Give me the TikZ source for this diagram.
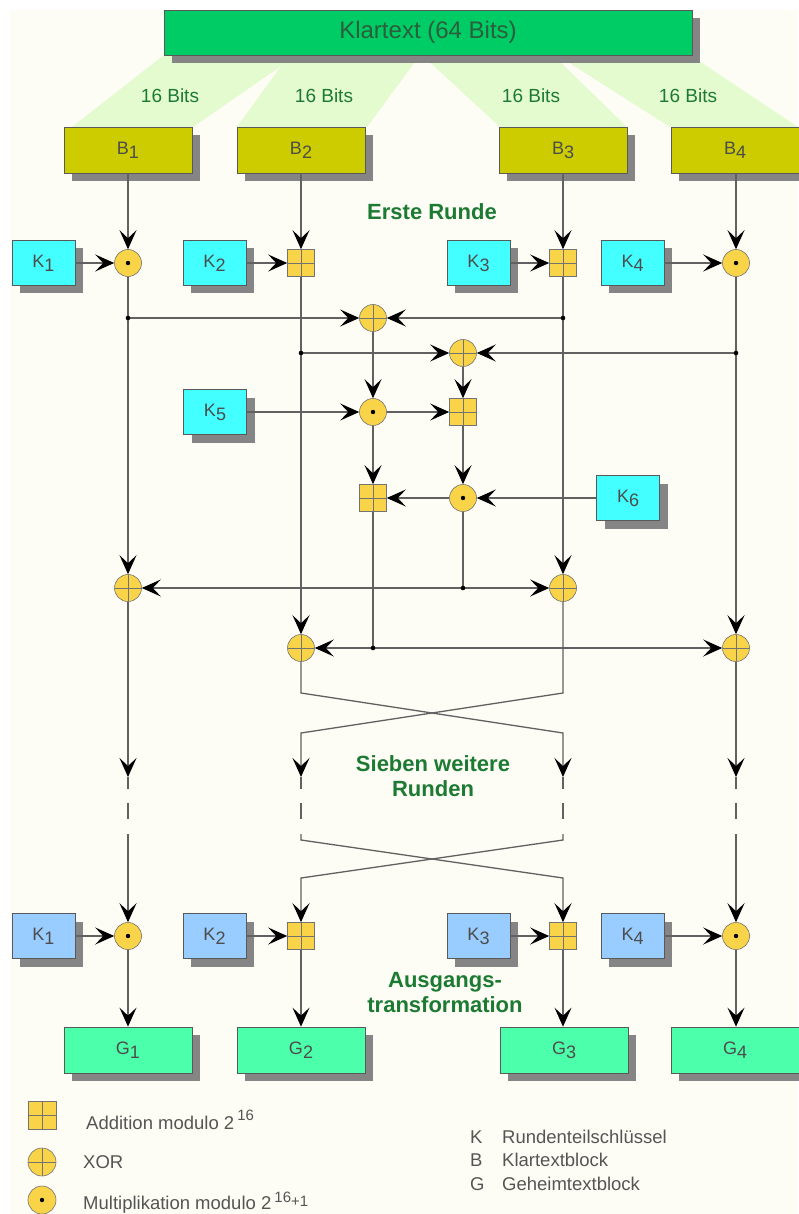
\documentclass[tikz,border=0pt]{standalone}
\usepackage{fontspec}
\setmainfont{Liberation Sans}
\usetikzlibrary{arrows.meta,shadows}

\definecolor{bgcream}{HTML}{FDFDF5}
\definecolor{fanGreen}{HTML}{E4FBD0}
\definecolor{colKlar}{HTML}{00CC66}
\definecolor{colB}{HTML}{CCCC00}
\definecolor{colK}{HTML}{44FFFF}
\definecolor{colKo}{HTML}{99CCFF}
\definecolor{colG}{HTML}{4CFFAA}
\definecolor{colOp}{HTML}{F9D448}
\definecolor{lblGreen}{HTML}{1C7A32}
\definecolor{lgGray}{HTML}{555555}
\definecolor{klarText}{HTML}{2C5E3C}

\newcommand\opcross{\draw[black!55,line width=0.5pt]
  (path picture bounding box.north) -- (path picture bounding box.south)
  (path picture bounding box.west) -- (path picture bounding box.east);}
\newcommand\idx[1]{\raisebox{-4pt}{#1}}

\tikzset{
  blk/.style={draw=black!65, line width=0.7pt, inner sep=0pt,
    drop shadow={shadow xshift=8pt, shadow yshift=-8pt, fill=black!48, opacity=1},
    font=\fontsize{18}{20}\selectfont, text=black!70},
  bbox/.style={blk, fill=colB, minimum width=128pt, minimum height=46pt},
  kbox/.style={blk, fill=colK, minimum width=63pt, minimum height=45pt},
  kout/.style={kbox, fill=colKo},
  gbox/.style={blk, fill=colG, minimum width=128pt, minimum height=46pt},
  op/.style={draw=black!55, fill=colOp, line width=0.6pt, minimum size=27pt, inner sep=0pt},
  xor/.style={op, circle, path picture={\opcross}},
  mul/.style={op, circle, path picture={\fill[black] (path picture bounding box.center) circle (2.2pt);}},
  add/.style={op, rectangle, path picture={\opcross}},
  conn/.style={draw=black!62, line width=1.3pt},
  arr/.style={conn, -{Stealth[length=19pt, width=17pt, inset=8pt, color=black]}},
  bits/.style={font=\fontsize{19}{21}\selectfont, text=lblGreen},
  phase/.style={font=\bfseries\fontsize{22}{25}\selectfont, text=lblGreen, align=center},
  legend/.style={font=\fontsize{18.5}{21}\selectfont, text=lgGray, anchor=west, inner sep=0pt},
  jdot/.style={fill=black}
}

\begin{document}
\begin{tikzpicture}[x=1pt, y=-1pt]
  \useasboundingbox (0,0) rectangle (798,1214);
  \fill[white] (0,0) rectangle (798,1214);
  \fill[bgcream] (10,10) rectangle (798,1214);

  % splitting of the 64-bit block into four 16-bit parts
  \fill[fanGreen] (164,55) -- (297,55) -- (193,127) -- (72,127) -- cycle;
  \fill[fanGreen] (289,55) -- (420,55) -- (367,127) -- (237,127) -- cycle;
  \fill[fanGreen] (422,55) -- (553,55) -- (627,127) -- (500,127) -- cycle;
  \fill[fanGreen] (557,55) -- (690,55) -- (798,127) -- (670,127) -- cycle;

  \node[blk, fill=colKlar, minimum width=528pt, minimum height=45pt,
        font=\fontsize{24}{26}\selectfont, text=klarText] (klar) at (428,32.5) {Klartext (64 Bits)};

  \node[bits] (b1l) at (170,96) {16 Bits};
  \node[bits] (b2l) at (324,96) {16 Bits};
  \node[bits] (b3l) at (531,96) {16 Bits};
  \node[bits] (b4l) at (688,96) {16 Bits};

  % plaintext blocks
  \node[bbox] (B1) at (128,150) {B\idx{1}};
  \node[bbox] (B2) at (301,150) {B\idx{2}};
  \node[bbox] (B3) at (563,150) {B\idx{3}};
  \node[bbox] (B4) at (735,150) {B\idx{4}};

  \node[phase] (erste) at (432,212) {Erste Runde};

  % first round: key mixing
  \node[kbox] (K1) at (43.5,263) {K\idx{1}};
  \node[kbox] (K2) at (214.5,263) {K\idx{2}};
  \node[kbox] (K3) at (478.5,263) {K\idx{3}};
  \node[kbox] (K4) at (632.5,263) {K\idx{4}};
  \node[mul] (m1) at (128,263) {};
  \node[add] (a2) at (301,263) {};
  \node[add] (a3) at (563,263) {};
  \node[mul] (m4) at (736,263) {};

  % MA structure
  \node[xor] (x1) at (373,318) {};
  \node[xor] (x2) at (463,353) {};
  \node[kbox] (K5) at (215,412) {K\idx{5}};
  \node[mul] (m5) at (373,412) {};
  \node[add] (a5) at (463,412) {};
  \node[kbox] (K6) at (628,498) {K\idx{6}};
  \node[mul] (m6) at (463,498) {};
  \node[add] (a6) at (373,498) {};

  \node[xor] (x5) at (128,588) {};
  \node[xor] (x6) at (563,588) {};
  \node[xor] (x7) at (301,648) {};
  \node[xor] (x8) at (736,648) {};

  % junction points
  \coordinate (j11) at (128,318);
  \coordinate (j31) at (563,318);
  \coordinate (j21) at (301,353);
  \coordinate (j41) at (736,353);
  \coordinate (j5) at (463,588);
  \coordinate (j6) at (373,648);

  \draw[arr] (B1) -- (m1);
  \draw[arr] (B2) -- (a2);
  \draw[arr] (B3) -- (a3);
  \draw[arr] (B4.south -| m4) -- (m4);
  \draw[arr] (K1) -- (m1);
  \draw[arr] (K2) -- (a2);
  \draw[arr] (K3) -- (a3);
  \draw[arr] (K4) -- (m4);

  \draw[arr] (m1) -- (x5);
  \draw[arr] (a2) -- (x7);
  \draw[arr] (a3) -- (x6);
  \draw[arr] (m4) -- (x8);

  \draw[arr] (j11) -- (x1);
  \draw[arr] (j31) -- (x1);
  \draw[arr] (j21) -- (x2);
  \draw[arr] (j41) -- (x2);

  \draw[arr] (x1) -- (m5);
  \draw[arr] (x2) -- (a5);
  \draw[arr] (K5) -- (m5);
  \draw[arr] (m5) -- (a5);
  \draw[arr] (a5) -- (m6);
  \draw[arr] (K6) -- (m6);
  \draw[arr] (m6) -- (a6);
  \draw[arr] (m5) -- (a6);

  \draw[conn] (m6) -- (j5);
  \draw[arr] (j5) -- (x5);
  \draw[arr] (j5) -- (x6);
  \draw[conn] (a6) -- (j6);
  \draw[arr] (j6) -- (x7);
  \draw[arr] (j6) -- (x8);

  \foreach \j in {j11,j31,j21,j41,j5,j6} \fill[jdot] (\j) circle (2.3pt);

  % swap of the middle blocks and the remaining rounds
  \coordinate (c2a) at (301,693);
  \coordinate (c2b) at (563,733);
  \coordinate (c3a) at (563,693);
  \coordinate (c3b) at (301,733);
  \foreach \c/\xx in {t1/128,t2/301,t3/563,t4/736} {
    \coordinate (\c) at (\xx,777);
    \coordinate (\c e) at (\xx,789);
    \coordinate (\c da) at (\xx,803);
    \coordinate (\c db) at (\xx,819);
    \coordinate (\c s) at (\xx,834);
  }
  \draw[arr] (x5) -- (t1);
  \draw[arr] (x7) -- (c2a) -- (c2b) -- (t3);
  \draw[arr] (x6) -- (c3a) -- (c3b) -- (t2);
  \draw[arr] (x8) -- (t4);
  \foreach \c in {t1,t2,t3,t4} {
    \draw[conn] (\c) -- (\c e);
    \draw[conn] (\c da) -- (\c db);
  }

  \node[phase] (sieben) at (433,776) {Sieben weitere\\Runden};

  % output transformation
  \node[kout] (K1o) at (43.5,936) {K\idx{1}};
  \node[kout] (K2o) at (214.5,936) {K\idx{2}};
  \node[kout] (K3o) at (478.5,936) {K\idx{3}};
  \node[kout] (K4o) at (632.5,936) {K\idx{4}};
  \node[mul] (m7) at (128,936) {};
  \node[add] (a7) at (301,936) {};
  \node[add] (a8) at (563,936) {};
  \node[mul] (m8) at (736,936) {};

  \coordinate (u2a) at (301,840);
  \coordinate (u2b) at (563,878);
  \coordinate (u3a) at (563,840);
  \coordinate (u3b) at (301,878);
  \draw[arr] (t1s) -- (m7);
  \draw[arr] (t2s) -- (u2a) -- (u2b) -- (a8);
  \draw[arr] (t3s) -- (u3a) -- (u3b) -- (a7);
  \draw[arr] (t4s) -- (m8);

  \draw[arr] (K1o) -- (m7);
  \draw[arr] (K2o) -- (a7);
  \draw[arr] (K3o) -- (a8);
  \draw[arr] (K4o) -- (m8);

  \node[phase] (ausg) at (445,993) {Ausgangs-\\transformation};

  % ciphertext blocks
  \node[gbox] (G1) at (128,1050) {G\idx{1}};
  \node[gbox] (G2) at (301,1050) {G\idx{2}};
  \node[gbox] (G3) at (564,1050) {G\idx{3}};
  \node[gbox] (G4) at (735,1050) {G\idx{4}};
  \draw[arr] (m7) -- (G1.north -| m7);
  \draw[arr] (a7) -- (G2);
  \draw[arr] (a8) -- (G3.north -| a8);
  \draw[arr] (m8) -- (G4.north -| m8);

  % legend
  \node[add, minimum size=28pt] (la) at (42,1115) {};
  \node[xor, minimum size=28pt] (lx) at (42,1162) {};
  \node[mul, minimum size=28pt] (lm) at (42,1200) {};
  \node[legend] (lat) at (86,1120) {Addition modulo 2\,\raisebox{9pt}{\fontsize{15}{15}\selectfont 16}};
  \node[legend] (lxt) at (83,1162) {XOR};
  \node[legend] (lmt) at (83,1203) {Multiplikation modulo 2\,\raisebox{7pt}{\fontsize{15}{15}\selectfont 16}\raisebox{3pt}{\fontsize{15}{15}\selectfont +1}};

  \node[legend] (lk) at (470,1137) {K};
  \node[legend] (lb) at (470,1160) {B};
  \node[legend] (lg) at (470,1184) {G};
  \node[legend] (lkt) at (502,1137) {Rundenteilschlüssel};
  \node[legend] (lbt) at (502,1160) {Klartextblock};
  \node[legend] (lgt) at (502,1184) {Geheimtextblock};
\end{tikzpicture}
\end{document}
